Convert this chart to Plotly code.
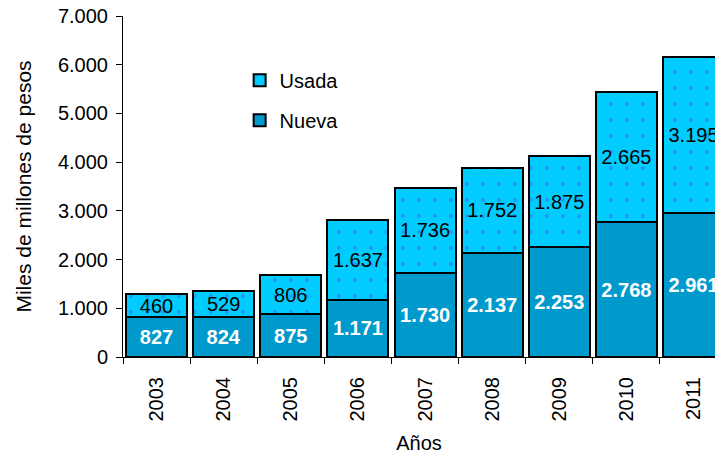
import plotly.graph_objects as go

years = ["2003", "2004", "2005", "2006", "2007", "2008", "2009", "2010", "2011"]
nueva = [827, 824, 875, 1171, 1730, 2137, 2253, 2768, 2961]
usada = [460, 529, 806, 1637, 1736, 1752, 1875, 2665, 3195]
y_ticks = [0, 1000, 2000, 3000, 4000, 5000, 6000, 7000]

FONT = "Liberation Sans, Arial, sans-serif"

fig = go.Figure()
fig.add_trace(go.Bar(
    x=years, y=nueva, name="Nueva", legendrank=2, legendgroup="b",
    marker=dict(color="#0099CC", line=dict(color="black", width=2)),
    texttemplate="<b>%{y:,}</b>", textposition="inside", insidetextanchor="middle",
    constraintext="none", cliponaxis=True,
    textfont=dict(family=FONT, size=20, color="white"),
))
fig.add_trace(go.Bar(
    x=years, y=usada, name="Usada", legendrank=1, legendgroup="a",
    marker=dict(color="#00CCFF", line=dict(color="black", width=2),
                pattern=dict(shape=".", fgcolor="#4466ee", bgcolor="#00CCFF",
                             size=16, solidity=0.05, fillmode="overlay")),
    texttemplate="%{y:,}", textposition="inside", insidetextanchor="middle",
    constraintext="none", cliponaxis=True,
    textfont=dict(family=FONT, size=20, color="black"),
))

fig.update_layout(
    width=715, height=454,
    margin=dict(l=123, r=0, t=16, b=97),
    barmode="stack", bargap=0.09,
    separators=",.",
    paper_bgcolor="white", plot_bgcolor="white",
    font=dict(family=FONT, size=19, color="black"),
    uniformtext=dict(mode=False),
    showlegend=True,
    legend=dict(x=0.197, y=0.869, xanchor="left", yanchor="top",
                traceorder="grouped", tracegroupgap=11,
                font=dict(family=FONT, size=20), bgcolor="rgba(0,0,0,0)"),
    xaxis=dict(type="category", range=[-0.5, 8.32], tickson="boundaries",
               automargin=False,
               ticks="outside", ticklen=6, tickcolor="black", tickwidth=1,
               showline=True, linecolor="black", linewidth=1,
               tickangle=-90, tickfont=dict(family=FONT, size=20),
               ticklabelstandoff=11,
               title=dict(text="Años", font=dict(family=FONT, size=20), standoff=16),
               showgrid=False),
    yaxis=dict(range=[0, 7000], tickvals=y_ticks, tickformat=",d",
               automargin=False,
               ticks="outside", ticklen=6, tickcolor="black", tickwidth=1,
               showline=True, linecolor="black", linewidth=1,
               tickfont=dict(family=FONT, size=20), ticklabelstandoff=4,
               title=dict(text="Miles de millones de pesos", font=dict(family=FONT, size=21), standoff=20),
               showgrid=False, zeroline=False),
)

fig.write_html("out.html", config={"displayModeBar": False},
               post_script="document.body.style.margin='0';")
